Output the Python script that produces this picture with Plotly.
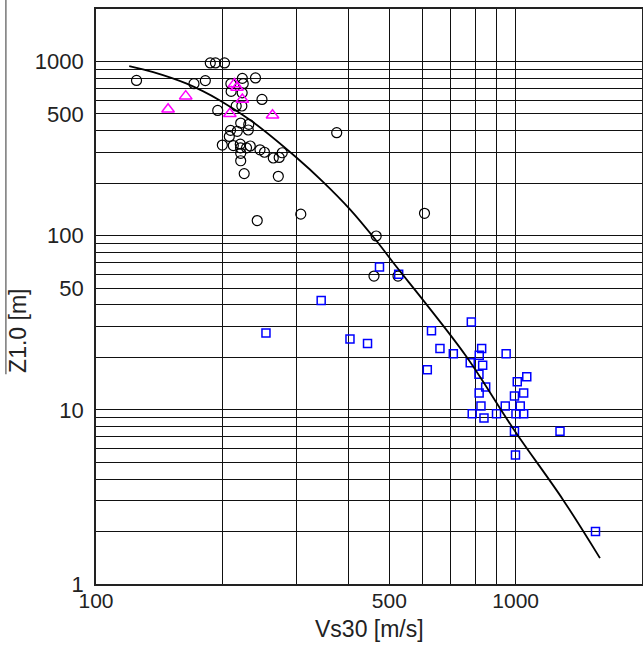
import plotly.graph_objects as go

# ---- data ----
circ_vs = [124.9, 187.2, 192.6, 202.4, 171.2, 182.2, 209.6, 223.2, 239.9, 224.3,
           209.9, 223.0, 248.6, 215.8, 222.6, 195.0, 221.2, 231.2, 230.6, 209.2,
           217.1, 207.8, 200.0, 212.4, 220.7, 233.1, 221.0, 228.4, 221.2, 245.9,
           252.0, 264.5, 273.2, 277.8, 221.2, 225.5, 271.9, 374.6, 307.6, 242.2,
           606.4, 465.2, 459.6, 524.3]
circ_z = [778, 980, 980, 980, 745, 776, 745, 799, 804, 745,
          673, 660, 605, 555, 555, 523, 443, 435, 404, 402,
          397, 371, 331, 329, 335, 327, 319, 319, 297, 311,
          301, 279, 281, 299, 269, 227, 219, 390, 132.8, 122,
          134.3, 99.5, 58.6, 58.6]

sq_vs = [473.7, 526.3, 344.0, 254.1, 402.9, 443.6, 784.0, 630.1, 660.1, 710.3,
         829.8, 818.9, 949.1, 779.3, 834.4, 615.8, 817.6, 1062.8, 1008.8, 848.3,
         818.5, 1044.9, 993.4, 826.6, 944.5, 1025.6, 787.9, 900.2, 1001.7, 1044.9,
         840.4, 993.4, 1275.4, 998.9, 1549.6]
sq_z = [66.1, 60.0, 42.4, 27.6, 25.5, 24.0, 31.9, 28.4, 22.5, 21.0,
        22.5, 20.6, 21.0, 18.6, 18.0, 17.0, 16.0, 15.5, 14.5, 13.5,
        12.5, 12.5, 12.0, 10.5, 10.5, 10.5, 9.5, 9.5, 9.5, 9.5,
        8.98, 7.52, 7.52, 5.51, 2.0]

tri_vs = [148.5, 163.6, 213.8, 216.8, 223.2, 208.4, 263.4]
tri_z = [532, 632, 743, 709, 605, 501, 491]

curve_vs = [120.0, 136.9, 164.5, 197.4, 237.1, 300.8, 348.0, 402.9, 464.7,
            520.6, 602.4, 764.4, 992.4, 1298.6, 1588.0]
curve_z = [940, 868, 745, 597, 447, 280, 203, 141.6, 94,
           66, 42.5, 20.1, 7.64, 3.03, 1.408]

x_grid = [100, 200, 300, 400, 500, 600, 700, 800, 900, 1000]
x_labels = ["100", "", "", "", "500", "", "", "", "", "1000"]
y_grid = [1, 2, 3, 4, 5, 6, 7, 8, 9, 10, 20, 30, 40, 50, 60, 70, 80, 90,
          100, 200, 300, 400, 500, 600, 700, 800, 900, 1000]
y_labels = ["1", "", "", "", "", "", "", "", "", "10", "", "", "", "50", "", "", "", "",
            "100", "", "", "", "500", "", "", "", "", "1000"]

FONT = "Liberation Sans, Arial, sans-serif"

fig = go.Figure()
fig.add_trace(go.Scatter(x=circ_vs, y=circ_z, mode="markers",
                         marker=dict(symbol="circle-open", size=10, color="black",
                                     line=dict(width=1.2)), showlegend=False))
fig.add_trace(go.Scatter(x=sq_vs, y=sq_z, mode="markers",
                         marker=dict(symbol="square-open", size=8, color="#0000ff",
                                     line=dict(width=1.5)), showlegend=False))
fig.add_trace(go.Scatter(x=tri_vs, y=tri_z, mode="markers",
                         marker=dict(symbol="triangle-up-open", size=11, color="#ff00ff",
                                     line=dict(width=1.5)), showlegend=False))
fig.add_trace(go.Scatter(x=curve_vs, y=curve_z, mode="lines",
                         line=dict(color="black", width=1.8, shape="spline", smoothing=1.0),
                         showlegend=False))

fig.update_layout(
    width=643, height=651,
    margin=dict(l=96, r=1, t=9, b=67),
    paper_bgcolor="white", plot_bgcolor="white",
    font=dict(family=FONT, size=22, color="#222"),
    xaxis=dict(type="log", range=[2, 3.30103], tickmode="array",
               tickvals=x_grid, ticktext=x_labels, showgrid=True,
               gridcolor="#111", gridwidth=1.1, showline=True, mirror=True,
               linecolor="#222", linewidth=1.6, ticks="", zeroline=False,
               automargin=False, ticklabelstandoff=-3,
               tickfont=dict(size=21, family=FONT)),
    yaxis=dict(type="log", range=[0, 3.30103], tickmode="array",
               tickvals=y_grid, ticktext=y_labels, showgrid=True,
               gridcolor="#111", gridwidth=1.1, showline=True, mirror=True,
               linecolor="#222", linewidth=1.6, ticks="", zeroline=False,
               ticklabelstandoff=6, automargin=False,
               tickfont=dict(size=22, family=FONT)),
    annotations=[
        dict(text="Z1.0 [m]", textangle=-90, xref="paper", yref="paper",
             x=-0.143, y=0.44, xanchor="center", yanchor="middle",
             showarrow=False, font=dict(size=23, family=FONT, color="#222")),
        dict(text="Vs30 [m/s]", xref="paper", yref="paper",
             x=0.5, y=-0.078, xanchor="center", yanchor="middle",
             showarrow=False, font=dict(size=23, family=FONT, color="#222")),
    ],
    shapes=[dict(type="line", xref="paper", yref="paper", x0=-0.165, x1=-0.165,
                 y0=1.02, y1=0.365, line=dict(color="#555", width=1.2))],
)

fig.write_html("out.html", config={"displayModeBar": False},
               post_script="document.body.style.margin='0px';")
